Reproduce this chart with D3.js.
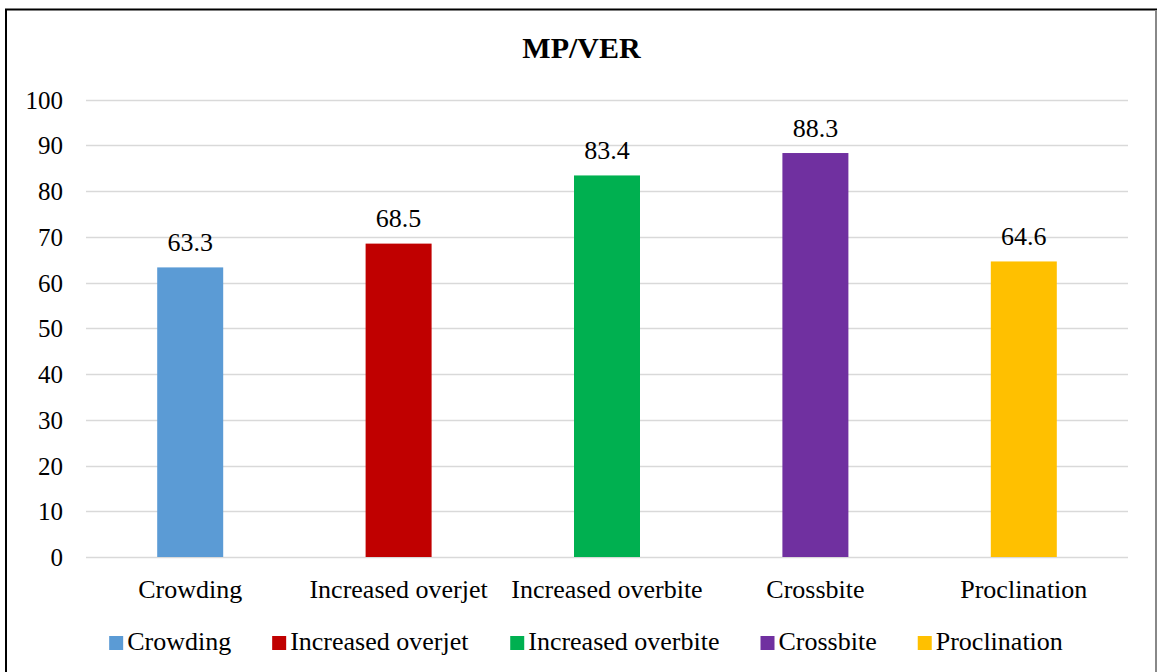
<!DOCTYPE html>
<html><head><meta charset="utf-8">
<script src="https://cdn.jsdelivr.net/npm/d3@7"></script>
<style>body{margin:0;background:#fff}svg{display:block}</style>
</head><body>
<svg id="c" width="1157" height="672"></svg>
<script>
const categories = ["Crowding","Increased overjet","Increased overbite","Crossbite","Proclination"];
const values = [63.3,68.5,83.4,88.3,64.6];
const colors = ["#5b9bd5","#c00000","#00b050","#7030a0","#ffc000"];
const yTicks = [0,10,20,30,40,50,60,70,80,90,100];
const title = "MP/VER";
const FONT = "'Liberation Serif','Times New Roman',serif";

const svg = d3.select("#c");
svg.append("rect").attr("x",6).attr("y",9.5).attr("width",1150).attr("height",680)
  .attr("fill","none").attr("stroke","#000").attr("stroke-width",2);
svg.append("line").attr("x1",1156).attr("x2",1156).attr("y1",10).attr("y2",672).attr("stroke","#888").attr("stroke-width",2);

const x = d3.scaleBand().domain(categories).range([86,1128]).paddingInner(0).paddingOuter(0);
const y = d3.scaleLinear().domain([0,100]).range([557,99.5]);

svg.append("text").attr("x",581.5).attr("y",58).attr("text-anchor","middle")
  .style("font-family",FONT).style("font-weight","bold").style("font-size","30px").style("fill","#000").text(title);

svg.append("g").selectAll("line").data(yTicks).join("line")
  .attr("x1",86).attr("x2",1128).attr("y1",d=>Math.round(y(d))+0.5).attr("y2",d=>Math.round(y(d))+0.5)
  .attr("stroke","#d9d9d9").attr("stroke-width",1.5);

const yAxis = d3.axisLeft(y).tickValues(yTicks).tickSize(0).tickPadding(0);
const ga = svg.append("g").attr("transform","translate(63,0)").call(yAxis);
ga.select(".domain").remove();
ga.attr("font-family",null).attr("font-size",null);
ga.selectAll("text").attr("dy",null).attr("y",8.5)
  .style("font-family",FONT).style("font-size","25px").style("fill","#000");

const bw = 66;
svg.append("g").selectAll("rect").data(values).join("rect")
  .attr("x",(d,i)=>x(categories[i])+x.bandwidth()/2-bw/2)
  .attr("width",bw)
  .attr("y",d=>y(d)).attr("height",d=>y(0)-y(d))
  .attr("fill",(d,i)=>colors[i]);

svg.append("g").selectAll("text").data(values).join("text")
  .attr("x",(d,i)=>x(categories[i])+x.bandwidth()/2)
  .attr("y",d=>y(d)-16.5).attr("text-anchor","middle")
  .style("font-family",FONT).style("font-size","26px").style("fill","#000")
  .text(d=>d.toFixed(1));

const xAxis = d3.axisBottom(x).tickSize(0).tickPadding(0);
const gx = svg.append("g").call(xAxis);
gx.select(".domain").remove();
gx.attr("font-family",null).attr("font-size",null);
gx.selectAll("text").attr("dy",null).attr("y",597.5)
  .style("font-family",FONT).style("font-size","26px").style("fill","#000");

const lg = svg.append("g");
const items = lg.selectAll("g").data(categories).join("g");
items.append("rect").attr("width",14).attr("height",14).attr("y",-14).attr("fill",(d,i)=>colors[i]);
items.append("text").attr("x",18).attr("y",0)
  .style("font-family",FONT).style("font-size","26px").style("fill","#000").text(d=>d);
let cx = 0; const gap = 41; const pos=[];
items.each(function(){ const w = this.getBBox().width; pos.push(cx); cx += w + gap; });
const total = cx - gap;
const start = 586 - total/2;
items.attr("transform",(d,i)=>`translate(${start+pos[i]},650)`);
</script>
</body></html>
